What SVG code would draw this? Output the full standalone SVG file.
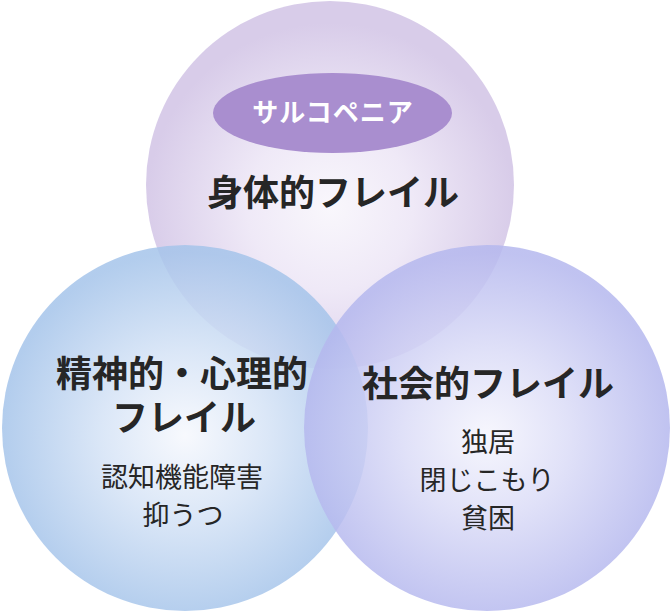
<svg xmlns="http://www.w3.org/2000/svg" width="672" height="614" viewBox="0 0 672 614">
  <defs>
    <radialGradient id="gTop" cx="50%" cy="56%" r="50%">
      <stop offset="0" stop-color="#f9f7fc"/>
      <stop offset="0.45" stop-color="#efe9f7"/>
      <stop offset="1" stop-color="#d8cce9"/>
    </radialGradient>
    <radialGradient id="gLeft" cx="50%" cy="52%" r="50%">
      <stop offset="0" stop-color="#f6f8fd"/>
      <stop offset="0.45" stop-color="#d5e3f6"/>
      <stop offset="1" stop-color="#a5c4ea"/>
    </radialGradient>
    <radialGradient id="gRight" cx="50%" cy="52%" r="50%">
      <stop offset="0" stop-color="#f5f5fd"/>
      <stop offset="0.45" stop-color="#dbdcf7"/>
      <stop offset="1" stop-color="#b5b8ee"/>
    </radialGradient>
    <style>
      .h { font-family: "Noto Sans CJK JP", "Noto Sans", sans-serif; font-weight: 700; font-size: 36px; fill: #262626; text-anchor: middle; }
      .s { font-family: "Noto Sans CJK JP", "Noto Sans", sans-serif; font-weight: 400; font-size: 27px; fill: #262626; text-anchor: middle; }
      .pill { font-family: "Noto Sans CJK JP", "Noto Sans", sans-serif; font-weight: 700; font-size: 26px; fill: #ffffff; text-anchor: middle; letter-spacing: 1px; }
    </style>
  </defs>
  <rect width="672" height="614" fill="#ffffff"/>
  <g id="physical">
    <circle cx="330" cy="185" r="184" fill="url(#gTop)"/>
  </g>
  <g id="mental">
    <circle cx="185" cy="428" r="183" fill="url(#gLeft)" opacity="0.85"/>
  </g>
  <g id="social">
    <circle cx="487" cy="428" r="183" fill="url(#gRight)" opacity="0.85"/>
  </g>
  <g id="labels-physical">
    <ellipse cx="332.5" cy="113" rx="119.5" ry="40" fill="#a98ecf"/>
    <text class="pill" x="333" y="122">サルコペニア</text>
    <text class="h" x="333" y="206">身体的フレイル</text>
  </g>
  <g id="labels-mental">
    <text class="h"><tspan x="182" y="387">精神的・心理的</tspan><tspan x="184" y="431">フレイル</tspan></text>
    <text class="s"><tspan x="182" y="487">認知機能障害</tspan><tspan x="183" y="525">抑うつ</tspan></text>
  </g>
  <g id="labels-social">
    <text class="h" x="488" y="397">社会的フレイル</text>
    <text class="s"><tspan x="488" y="452">独居</tspan><tspan x="487" y="490">閉じこもり</tspan><tspan x="488" y="528">貧困</tspan></text>
  </g>
  <g id="connectors"></g>
</svg>
